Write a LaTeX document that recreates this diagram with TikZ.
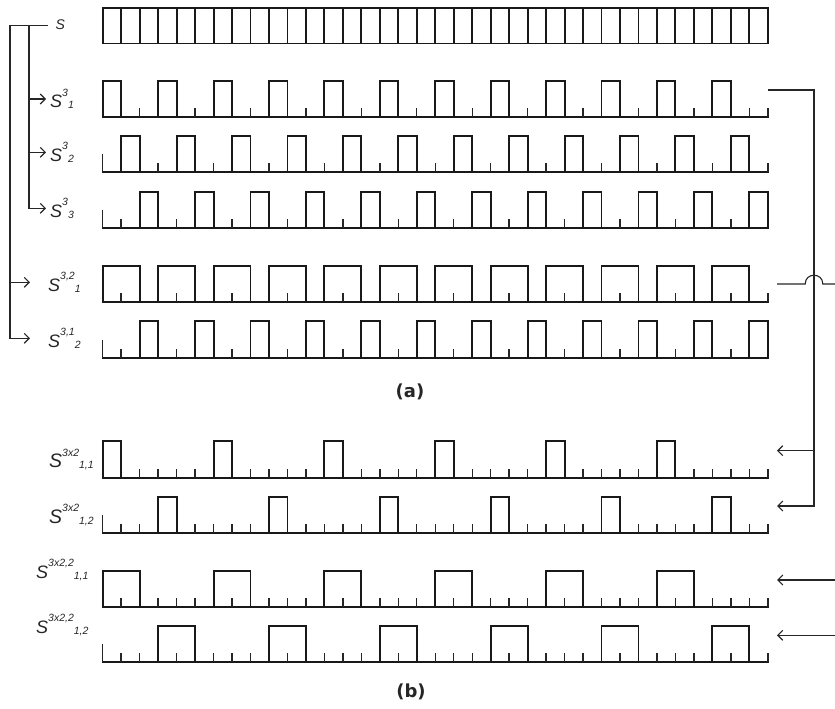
\documentclass[tikz,border=0pt]{standalone}
\usepackage{fontspec}
\setmainfont{Liberation Sans}
\newfontfamily\capfont{DejaVu Sans}
\usetikzlibrary{arrows.meta}

\def\xs{102.7}
\def\sw{18.475}
\def\xe{767.8}

\newcommand\siglabel[3][18]{{\fontsize{#1}{#1}\selectfont\itshape S}\raisebox{11.5pt}{\fontsize{10.5}{10.5}\selectfont\itshape #2}\raisebox{-1pt}{\fontsize{10.5}{10.5}\selectfont\itshape #3}}

% #1 baseline y, #2 top y, #3 period, #4 offset, #5 width
\newcommand\wave[5]{%
  \draw[wv] (\xs,#1) -- (\xe,#1);
  \foreach \k in {0,...,35}{%
    \pgfmathtruncatemacro\hh{mod(\k-#4+2*#3,#3)<#5}%
    \ifnum\hh=1 \draw[wv] ({\xs+\k*\sw},#2) -- ({\xs+(\k+1)*\sw},#2);\fi
  }
  \foreach \m in {0,...,36}{%
    \pgfmathtruncatemacro\LL{and(\m>0, mod(\m-1-#4+2*#3,#3)<#5)}%
    \pgfmathtruncatemacro\RR{and(\m<36, mod(\m-#4+2*#3,#3)<#5)}%
    \ifnum\LL=\RR
      \ifnum\m=0
        \draw[tk] ({\xs+\m*\sw},#1) -- ({\xs+\m*\sw},{#1-18});
      \else
        \draw[tk] ({\xs+\m*\sw},#1) -- ({\xs+\m*\sw},{#1-9});
      \fi
    \else
      \draw[wv] ({\xs+\m*\sw},#1) -- ({\xs+\m*\sw},#2);
    \fi
  }
}

\begin{document}
\begin{tikzpicture}[x=1pt,y=-1pt,
  wv/.style={line width=1.9pt, line cap=rect, line join=miter, black!90},
  tk/.style={line width=1.4pt, black!85},
  conn/.style={line width=1.1pt, black!85},
  arr/.style={conn, -{Straight Barb[length=5pt,width=10pt,line width=1.1pt]}},
  lbl/.style={anchor=base west, inner sep=0pt, black!85},
  captxt/.style={inner sep=0pt, font=\capfont\bfseries\fontsize{18}{18}\selectfont, black!85}]
\useasboundingbox (0,0) rectangle (835,709);

% top comb S
\draw[wv] (\xs,43.5) -- (\xe,43.5);
\draw[wv] (\xs,8) -- (\xe,8);
\foreach \m in {0,...,36}{\draw[wv] ({\xs+\m*\sw},43.5) -- ({\xs+\m*\sw},8);}

% waveforms (a)
\wave{117.3}{80.7}{3}{0}{1}
\wave{172.3}{135.7}{3}{1}{1}
\wave{227.7}{191.7}{3}{2}{1}
\wave{301.7}{265.7}{3}{0}{2}
\wave{357.7}{321.3}{3}{2}{1}
% waveforms (b)
\wave{477.7}{441}{6}{0}{1}
\wave{533.3}{496.7}{6}{3}{1}
\wave{607.3}{570.7}{6}{0}{2}
\wave{662.3}{626}{6}{3}{2}

% labels
\node[lbl] (lS) at (55.5,30) {\fontsize{14}{14}\selectfont\itshape S};
\node[lbl] (l31) at (50,107.5) {\siglabel{3}{1}};
\node[lbl] (l32) at (50,161) {\siglabel{3}{2}};
\node[lbl] (l33) at (50,217) {\siglabel{3}{3}};
\node[lbl] (l321) at (48,291) {\siglabel{3,2}{1}};
\node[lbl] (l312) at (48,347) {\siglabel{3,1}{2}};
\node[lbl] (b11) at (49,467.5) {\siglabel[19.5]{3x2}{1,1}};
\node[lbl] (b12) at (49,523) {\siglabel[19.5]{3x2}{1,2}};
\node[lbl] (c11) at (36,578) {\siglabel{3x2,2}{1,1}};
\node[lbl] (c12) at (36,633) {\siglabel{3x2,2}{1,2}};

\node[captxt] (capa) at (410,392) {(a)};
\node[captxt] (capb) at (411,692) {(b)};

% left connectors
\coordinate (oT) at (10,25.3);
\coordinate (iT) at (29,25.3);
\coordinate (sT) at (47.7,25.3);
\coordinate (t31) at (46,99);
\coordinate (t32) at (46,152.3);
\coordinate (t33) at (46,208.3);
\coordinate (t321) at (30,282.3);
\coordinate (t312) at (30,338.3);
\coordinate (i31) at (29,99);
\coordinate (i32) at (29,152.3);
\coordinate (o321) at (10,282.3);

\draw[arr] (sT) -- (oT) |- (t312);
\draw[arr] (iT) |- (t33);
\draw[arr] (i31) -- (t31);
\draw[arr] (i32) -- (t32);
\draw[arr] (o321) -- (t321);

% right connectors
\coordinate (r1) at (768.3,90);
\coordinate (rv) at (814,90);
\coordinate (rb1) at (814,450.7);
\coordinate (ta1) at (777,450.7);
\coordinate (ta2) at (777,506);
\coordinate (h0) at (777,284);
\coordinate (h1) at (805.2,284);
\coordinate (h2) at (822.8,284);
\coordinate (h3) at (835,284);
\coordinate (e1) at (835,580);
\coordinate (ta3) at (777,580);
\coordinate (e2) at (835,635.3);
\coordinate (ta4) at (777,635.3);

\draw[arr] (r1) -- (rv) |- (ta2);
\draw[arr] (rb1) -- (ta1);
\draw[conn] (h0) -- (h1) .. controls (805.2,272.3) and (822.8,272.3) .. (h2) -- (h3);
\draw[arr] (e1) -- (ta3);
\draw[arr] (e2) -- (ta4);
\end{tikzpicture}
\end{document}
